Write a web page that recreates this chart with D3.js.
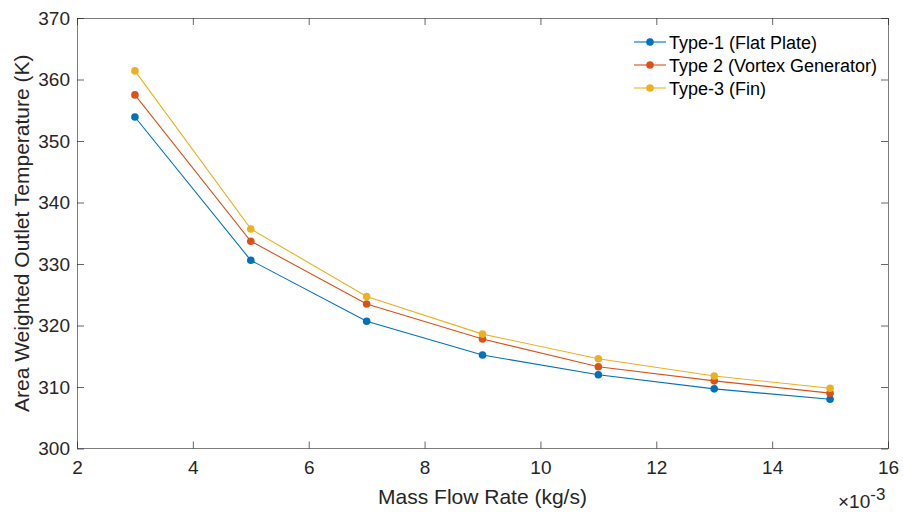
<!DOCTYPE html>
<html><head><meta charset="utf-8">
<script src="https://cdn.jsdelivr.net/npm/d3@7"></script>
<style>body{margin:0;background:#fff;}svg{display:block;font-family:"Liberation Sans",Arial,sans-serif;}</style>
</head><body><svg id="c" width="903" height="512"></svg>
<script>
const massFlow = [3, 5, 7, 9, 11, 13, 15];
const type1 = [353.9, 330.6, 320.7, 315.2, 312.0, 309.7, 308.0];
const type2 = [357.5, 333.7, 323.5, 317.8, 313.3, 311.0, 309.0];
const type3 = [361.4, 335.7, 324.7, 318.6, 314.6, 311.8, 309.8];
const seriesNames = ["Type-1 (Flat Plate)", "Type 2 (Vortex Generator)", "Type-3 (Fin)"];
const seriesColors = ["#0072BD", "#D95319", "#EDB120"];
const xTicks = [2, 4, 6, 8, 10, 12, 14, 16];
const yTicks = [300, 310, 320, 330, 340, 350, 360, 370];

const svg = d3.select("#c");
const L = 77, R = 888, T = 18, B = 448.5;
const x = d3.scaleLinear().domain([2, 16]).range([L, R]);
const y = d3.scaleLinear().domain([300, 370]).range([B, T]);
const axisColor = "#262626";

// box
svg.append("rect").attr("x", L).attr("y", T).attr("width", R - L).attr("height", B - T)
  .attr("fill", "none").attr("stroke", axisColor).attr("stroke-width", 1).attr("shape-rendering","crispEdges").attr("stroke-opacity",0.6);

const fmt = d => d;
const styleAxis = g => {
  g.select(".domain").remove();
  g.selectAll(".tick line").attr("stroke", axisColor).attr("stroke-opacity",0.7);
  g.selectAll(".tick text").attr("fill", axisColor).attr("font-size", 19).attr("font-family", '"Liberation Sans",Arial,sans-serif');
};
svg.append("g").attr("transform", `translate(0,${B})`)
  .call(d3.axisBottom(x).tickValues(xTicks).tickFormat(fmt).tickSizeInner(-7).tickSizeOuter(0).tickPadding(12))
  .call(styleAxis);
svg.append("g").attr("transform", `translate(0,${T})`)
  .call(d3.axisTop(x).tickValues(xTicks).tickFormat("").tickSizeInner(-7).tickSizeOuter(0))
  .call(styleAxis);
svg.append("g").attr("transform", `translate(${L},0)`)
  .call(d3.axisLeft(y).tickValues(yTicks).tickFormat(fmt).tickSizeInner(-7).tickSizeOuter(0).tickPadding(7))
  .call(styleAxis);
svg.append("g").attr("transform", `translate(${R},0)`)
  .call(d3.axisRight(y).tickValues(yTicks).tickFormat("").tickSizeInner(-7).tickSizeOuter(0))
  .call(styleAxis);

// labels
svg.append("text").attr("x", (L + R) / 2).attr("y", 504).attr("text-anchor", "middle")
  .attr("font-size", 21).attr("fill", axisColor).text("Mass Flow Rate (kg/s)");
svg.append("text").attr("transform", `translate(29,${(T + B) / 2}) rotate(-90)`).attr("text-anchor", "middle")
  .attr("font-size", 21).attr("fill", axisColor).text("Area Weighted Outlet Temperature (K)");
const ex = svg.append("text").attr("x", 838).attr("y", 508).attr("font-size", 19).attr("fill", axisColor);
ex.append("tspan").text("\u00D710");
ex.append("tspan").attr("dy", -8).attr("font-size", 17).text("-3");

const data = [type1, type2, type3];
const line = d3.line().x((d, i) => x(massFlow[i])).y(d => y(d));
data.forEach((s, k) => {
  svg.append("path").datum(s).attr("d", line).attr("fill", "none")
    .attr("stroke", seriesColors[k]).attr("stroke-width", 1.1);
  svg.append("g").selectAll("circle").data(s).join("circle")
    .attr("cx", (d, i) => x(massFlow[i])).attr("cy", d => y(d)).attr("r", 3.8)
    .attr("fill", seriesColors[k]);
});

// legend
const lg = svg.append("g");
seriesNames.forEach((n, k) => {
  const yy = 42 + k * 23;
  lg.append("line").attr("x1", 634).attr("x2", 666).attr("y1", yy).attr("y2", yy)
    .attr("stroke", seriesColors[k]).attr("stroke-width", 1.1);
  lg.append("circle").attr("cx", 650).attr("cy", yy).attr("r", 3.8).attr("fill", seriesColors[k]);
  lg.append("text").attr("x", 669).attr("y", yy + 6.5).attr("font-size", 18).attr("fill", "#000").text(n);
});
</script></body></html>
